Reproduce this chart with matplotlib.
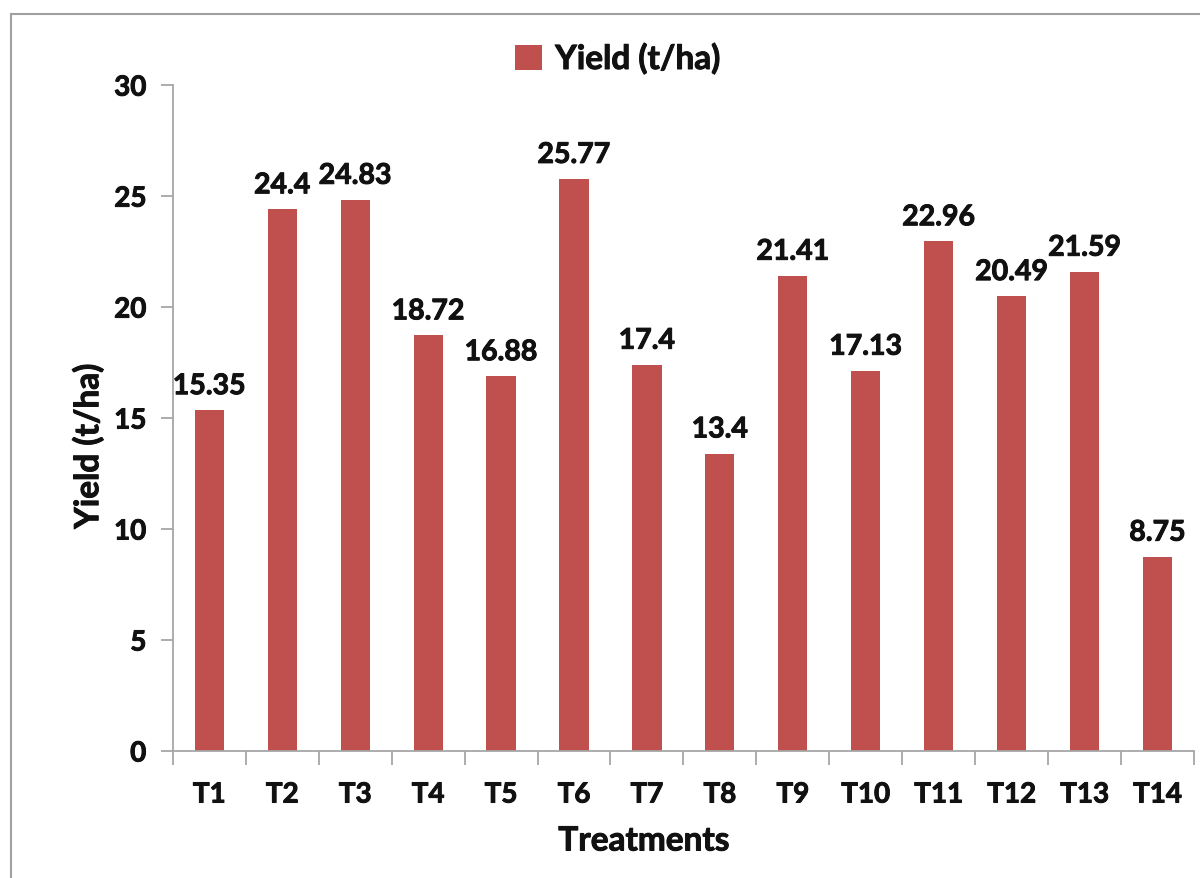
import matplotlib
matplotlib.use("Agg")
import matplotlib.pyplot as plt
import matplotlib.patheffects as pe
from matplotlib.patches import Rectangle
import numpy as np

treatments = ["T1", "T2", "T3", "T4", "T5", "T6", "T7", "T8", "T9", "T10", "T11", "T12", "T13", "T14"]
yield_t_ha = [15.35, 24.4, 24.83, 18.72, 16.88, 25.77, 17.4, 13.4, 21.41, 17.13, 22.96, 20.49, 21.59, 8.75]
value_labels = ["15.35", "24.4", "24.83", "18.72", "16.88", "25.77", "17.4", "13.4", "21.41", "17.13", "22.96", "20.49", "21.59", "8.75"]
y_ticks = [0, 5, 10, 15, 20, 25, 30]

plt.rcParams["font.family"] = ["Lato", "DejaVu Sans"]
plt.rcParams["font.weight"] = "bold"

BAR = "#C0504D"
GRID = "#A6A6A6"
TXT = "#111111"
# slightly heavier strokes for all text
thick = [pe.withStroke(linewidth=0.7, foreground=TXT)]

fig = plt.figure(figsize=(12, 8.79), dpi=100)
ax = fig.add_axes([0.144, 0.1445, 0.851, 0.7575])

x = np.arange(len(treatments))
ax.bar(x, yield_t_ha, width=0.4, color=BAR, label="Yield (t/ha)", zorder=2)

for xi, v, s in zip(x, yield_t_ha, value_labels):
    ax.annotate(s, (xi, v), xytext=(0, 8), textcoords="offset points",
                ha="center", va="bottom", fontsize=20.5, fontweight="bold",
                color=TXT, path_effects=thick)

ax.set_xlim(-0.5, len(treatments) - 0.5)
ax.set_ylim(0, 30)
ax.set_yticks(y_ticks)
ax.set_yticklabels([str(t) for t in y_ticks], fontsize=20, fontweight="bold")

ax.set_xticks(x)
ax.set_xticklabels(treatments, fontsize=20, fontweight="bold")
ax.tick_params(axis="x", which="major", length=0, pad=22)
ax.set_xticks(np.arange(-0.5, len(treatments), 1.0), minor=True)
ax.tick_params(axis="x", which="minor", length=10, width=1.3, color=GRID, direction="out")
ax.tick_params(axis="y", which="major", length=9, width=1.3, color=GRID, direction="out", pad=10)
for lab in ax.get_xticklabels() + ax.get_yticklabels():
    lab.set_color(TXT)
    lab.set_path_effects(thick)

for side in ("top", "right"):
    ax.spines[side].set_visible(False)
for side in ("left", "bottom"):
    ax.spines[side].set_color(GRID)
    ax.spines[side].set_linewidth(1.3)

# axis titles placed in figure coordinates
fig.text(644 / 1200, 1 - 842 / 879, "Treatments", ha="center", va="center",
         fontsize=24, fontweight="bold", color=TXT, path_effects=thick)
fig.text(88 / 1200, 1 - 447 / 879, "Yield (t/ha)", ha="center", va="center",
         rotation=90, fontsize=24, fontweight="bold", color=TXT, path_effects=thick)

leg = fig.legend(loc="center", bbox_to_anchor=(0.515, 0.932), frameon=False,
                 prop={"size": 24, "weight": "bold"}, handlelength=0.8, handleheight=0.8,
                 handletextpad=0.4)
for t in leg.get_texts():
    t.set_color(TXT)
    t.set_path_effects(thick)

fig.add_artist(Rectangle((11 / 1200, -0.02), 1.05, 1 - 15 / 879 + 0.02,
                         transform=fig.transFigure, fill=False,
                         edgecolor="#A0A0A0", linewidth=1.5, clip_on=False))

fig.savefig("out.png", dpi=100)
